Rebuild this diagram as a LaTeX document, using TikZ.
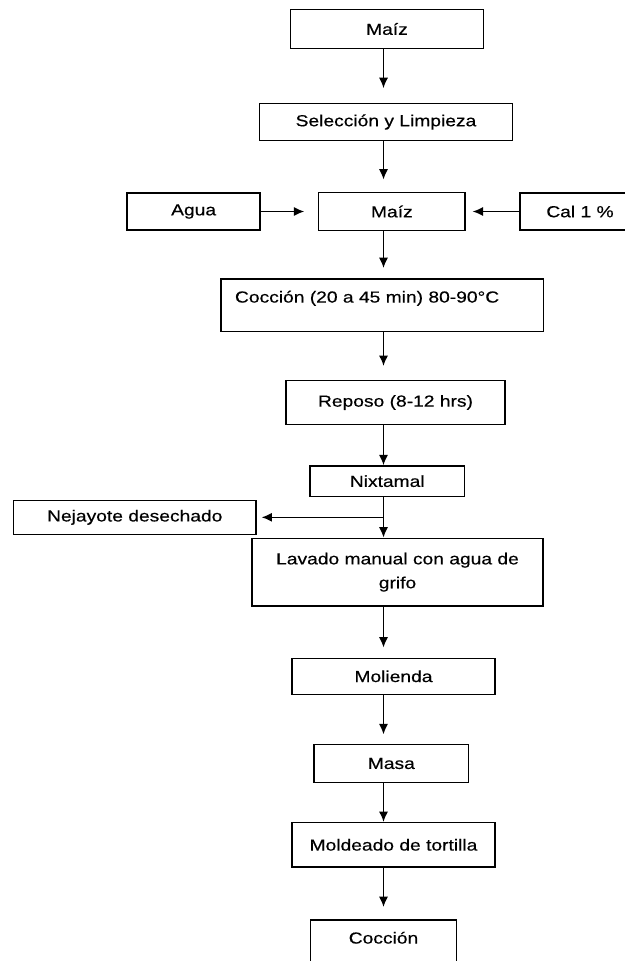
\documentclass[tikz,border=0pt]{standalone}
\usepackage{fontspec}
\setmainfont{Liberation Sans}[FakeStretch=1.2,FakeBold=0.4]
\usetikzlibrary{arrows.meta,positioning}

\begin{document}
\begin{tikzpicture}[font=\fontsize{11.4pt}{17pt}\selectfont,
  box/.style={draw, line width=1.1pt, inner sep=0pt, align=center},
  flow/.style={line width=1.1pt, -{Latex[length=2.6mm,width=2.3mm]}}]
  \useasboundingbox (0,0) rectangle (15.625,-24.025);
  \coordinate (axis) at (9.5875,0);

  \node[box, minimum width=4.815cm, minimum height=0.965cm] (maiz) at (9.675,-0.725) {Maíz};
  \node[box, minimum width=6.335cm, minimum height=0.915cm] (sel) at (9.65,-3.05) {Selección y Limpieza};
  \node[box, minimum width=3.66cm, minimum height=0.96cm] (maizb) at (9.796,-5.2875) {Maíz};
  \node[box, minimum width=3.32cm, minimum height=0.915cm] (agua) at (4.841,-5.2875) {Agua};
  \node[box, minimum width=3.0cm, minimum height=0.915cm] (cal) at (14.5,-5.2875) {Cal 1 \%};
  \node[box, anchor=north, align=left, text width=7.36cm, inner xsep=0.35cm, inner ysep=0.3cm, text depth=0.42cm]
    (coc) at (9.555,-6.95) {Cocción (20 a 45 min) 80-90°C};
  \node[box, minimum width=5.475cm, minimum height=1.11cm] (reposo) at (9.8875,-10.0625) {Reposo (8-12 hrs)};
  \node[box, minimum width=3.8625cm, minimum height=0.7575cm] (nixt) at (9.681,-12.029) {Nixtamal};
  \node[box, minimum width=6.0625cm, minimum height=0.85cm] (nejay) at (3.369,-12.9325) {Nejayote desechado};
  \node[box, minimum width=7.275cm, minimum height=1.6925cm] (lav) at (9.9375,-14.304) {Lavado manual con agua de\\grifo};
  \node[box, minimum width=5.075cm, minimum height=0.9cm] (mol) at (9.8375,-16.9075) {Molienda};
  \node[box, minimum width=3.8675cm, minimum height=0.96cm] (masa) at (9.784,-19.0875) {Masa};
  \node[box, minimum width=5.075cm, minimum height=1.1075cm] (molde) at (9.8375,-21.121) {Moldeado de tortilla};
  \node[box, anchor=north, minimum width=3.66cm, inner ysep=0.3cm, text depth=1cm] (cocb) at (9.5875,-22.975) {Cocción};

  % main line
  \draw[flow, shorten >=0.37cm] (maiz.south -| axis) -- (sel.north -| axis);
  \draw[flow, shorten >=0.3cm] (sel.south -| axis) -- (maizb.north -| axis);
  \draw[flow, shorten >=0.25cm] (maizb.south -| axis) -- (coc.north -| axis);
  \draw[flow, shorten >=0.34cm] (coc.south -| axis) -- (reposo.north -| axis);
  \draw[flow] (reposo.south -| axis) -- (nixt.north -| axis);
  \draw[flow] (nixt.south -| axis) -- (lav.north -| axis);
  \draw[flow, shorten >=0.25cm] (lav.south -| axis) -- (mol.north -| axis);
  \draw[flow, shorten >=0.23cm] (mol.south -| axis) -- (masa.north -| axis);
  \draw[flow] (masa.south -| axis) -- (molde.north -| axis);
  \draw[flow, shorten >=0.3cm] (molde.south -| axis) -- (cocb.north -| axis);

  % side inputs and outputs
  \draw[flow, shorten >=0.34cm] (agua) -- (maizb);
  \draw[flow, shorten >=0.17cm] (cal) -- (maizb);
  \coordinate (brk) at (axis |- nejay);
  \draw[flow, shorten >=0.12cm] (brk) -- (nejay);
\end{tikzpicture}
\end{document}
